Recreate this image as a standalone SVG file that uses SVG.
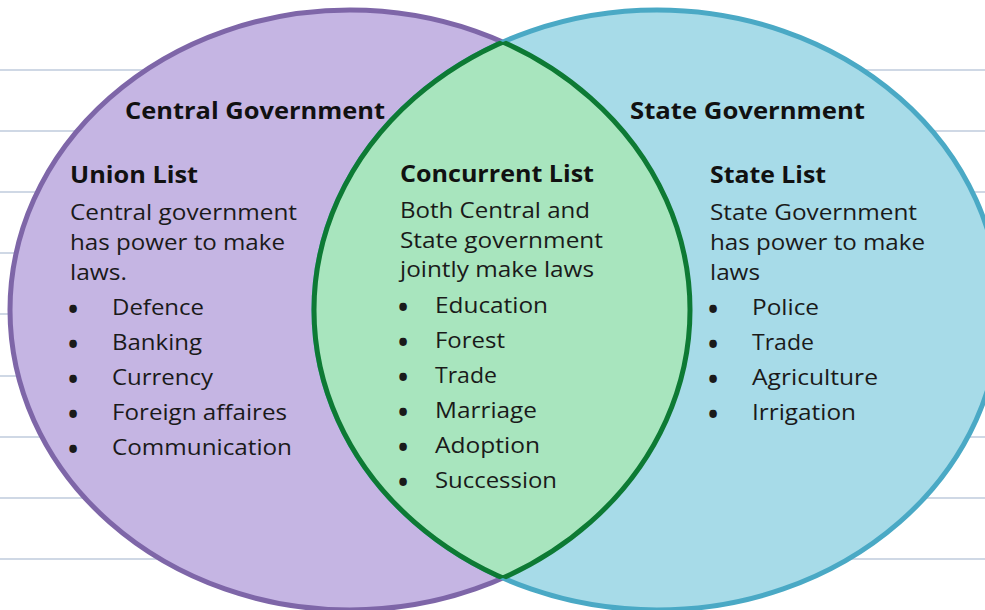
<svg xmlns="http://www.w3.org/2000/svg" width="985" height="610" viewBox="0 0 985 610">
<defs>
<clipPath id="clipL"><ellipse cx="350" cy="310" rx="340" ry="300"/></clipPath>
<clipPath id="clipR"><ellipse cx="657" cy="310" rx="343" ry="300"/></clipPath>
<style>
.rule{stroke:#bfcbdd;stroke-width:1.5}
text{font-family:"Open Sans","Noto Sans","Liberation Sans",sans-serif;fill:#1a1a1a}
.h{font-weight:bold;font-size:24px;fill:#111}
.b{font-size:22px}
.dot{font-size:27px;font-weight:bold}
</style>
</defs>
<rect width="985" height="610" fill="#ffffff"/>
<g id="rules">
<line class="rule" x1="0" y1="70" x2="985" y2="70"/>
<line class="rule" x1="0" y1="131" x2="985" y2="131"/>
<line class="rule" x1="0" y1="192" x2="985" y2="192"/>
<line class="rule" x1="0" y1="253" x2="985" y2="253"/>
<line class="rule" x1="0" y1="314" x2="985" y2="314"/>
<line class="rule" x1="0" y1="376" x2="985" y2="376"/>
<line class="rule" x1="0" y1="437" x2="985" y2="437"/>
<line class="rule" x1="0" y1="498" x2="985" y2="498"/>
<line class="rule" x1="0" y1="559" x2="985" y2="559"/>
</g>
<g id="central">
<ellipse cx="350" cy="310" rx="340" ry="300" fill="#c5b5e3" stroke="#7e66a8" stroke-width="5"/>
</g>
<g id="state">
<ellipse cx="657" cy="310" rx="343" ry="300" fill="#a7dbe8" stroke="#4aa9c5" stroke-width="5"/>
</g>
<g id="concurrent">
<g clip-path="url(#clipL)"><ellipse cx="657" cy="310" rx="343" ry="300" fill="#a8e5be" stroke="#0d7a34" stroke-width="5"/></g>
<g clip-path="url(#clipR)"><ellipse cx="350" cy="310" rx="340" ry="300" fill="none" stroke="#0d7a34" stroke-width="5"/></g>
</g>
<g id="central-text">
<text class="h" x="125" y="119" textLength="260" lengthAdjust="spacingAndGlyphs">Central Government</text>
<text class="h" x="70" y="183" textLength="128" lengthAdjust="spacingAndGlyphs">Union List</text>
<text class="b" x="70" y="220" textLength="227" lengthAdjust="spacingAndGlyphs">Central government</text>
<text class="b" x="70" y="250" textLength="215" lengthAdjust="spacingAndGlyphs">has power to make</text>
<text class="b" x="70" y="280" textLength="57" lengthAdjust="spacingAndGlyphs">laws.</text>
<text class="dot" x="68" y="319">•</text><text class="b" x="112" y="315" textLength="92" lengthAdjust="spacingAndGlyphs">Defence</text>
<text class="dot" x="68" y="354">•</text><text class="b" x="112" y="350" textLength="90" lengthAdjust="spacingAndGlyphs">Banking</text>
<text class="dot" x="68" y="389">•</text><text class="b" x="112" y="385" textLength="101" lengthAdjust="spacingAndGlyphs">Currency</text>
<text class="dot" x="68" y="424">•</text><text class="b" x="112" y="420" textLength="175" lengthAdjust="spacingAndGlyphs">Foreign affaires</text>
<text class="dot" x="68" y="459">•</text><text class="b" x="112" y="455" textLength="180" lengthAdjust="spacingAndGlyphs">Communication</text>
</g>
<g id="concurrent-text">
<text class="h" x="400" y="182" textLength="194" lengthAdjust="spacingAndGlyphs">Concurrent List</text>
<text class="b" x="400" y="218" textLength="190" lengthAdjust="spacingAndGlyphs">Both Central and</text>
<text class="b" x="400" y="248" textLength="203" lengthAdjust="spacingAndGlyphs">State government</text>
<text class="b" x="400" y="277" textLength="194" lengthAdjust="spacingAndGlyphs">jointly make laws</text>
<text class="dot" x="398" y="317">•</text><text class="b" x="435" y="313" textLength="113" lengthAdjust="spacingAndGlyphs">Education</text>
<text class="dot" x="398" y="352">•</text><text class="b" x="435" y="348" textLength="70" lengthAdjust="spacingAndGlyphs">Forest</text>
<text class="dot" x="398" y="387">•</text><text class="b" x="435" y="383" textLength="62" lengthAdjust="spacingAndGlyphs">Trade</text>
<text class="dot" x="398" y="422">•</text><text class="b" x="435" y="418" textLength="102" lengthAdjust="spacingAndGlyphs">Marriage</text>
<text class="dot" x="398" y="457">•</text><text class="b" x="435" y="453" textLength="105" lengthAdjust="spacingAndGlyphs">Adoption</text>
<text class="dot" x="398" y="492">•</text><text class="b" x="435" y="488" textLength="122" lengthAdjust="spacingAndGlyphs">Succession</text>
</g>
<g id="state-text">
<text class="h" x="630" y="119" textLength="235" lengthAdjust="spacingAndGlyphs">State Government</text>
<text class="h" x="710" y="183" textLength="116" lengthAdjust="spacingAndGlyphs">State List</text>
<text class="b" x="710" y="220" textLength="207" lengthAdjust="spacingAndGlyphs">State Government</text>
<text class="b" x="710" y="250" textLength="215" lengthAdjust="spacingAndGlyphs">has power to make</text>
<text class="b" x="710" y="280" textLength="50" lengthAdjust="spacingAndGlyphs">laws</text>
<text class="dot" x="708" y="319">•</text><text class="b" x="752" y="315" textLength="67" lengthAdjust="spacingAndGlyphs">Police</text>
<text class="dot" x="708" y="354">•</text><text class="b" x="752" y="350" textLength="62" lengthAdjust="spacingAndGlyphs">Trade</text>
<text class="dot" x="708" y="389">•</text><text class="b" x="752" y="385" textLength="126" lengthAdjust="spacingAndGlyphs">Agriculture</text>
<text class="dot" x="708" y="424">•</text><text class="b" x="752" y="420" textLength="104" lengthAdjust="spacingAndGlyphs">Irrigation</text>
</g>
</svg>
